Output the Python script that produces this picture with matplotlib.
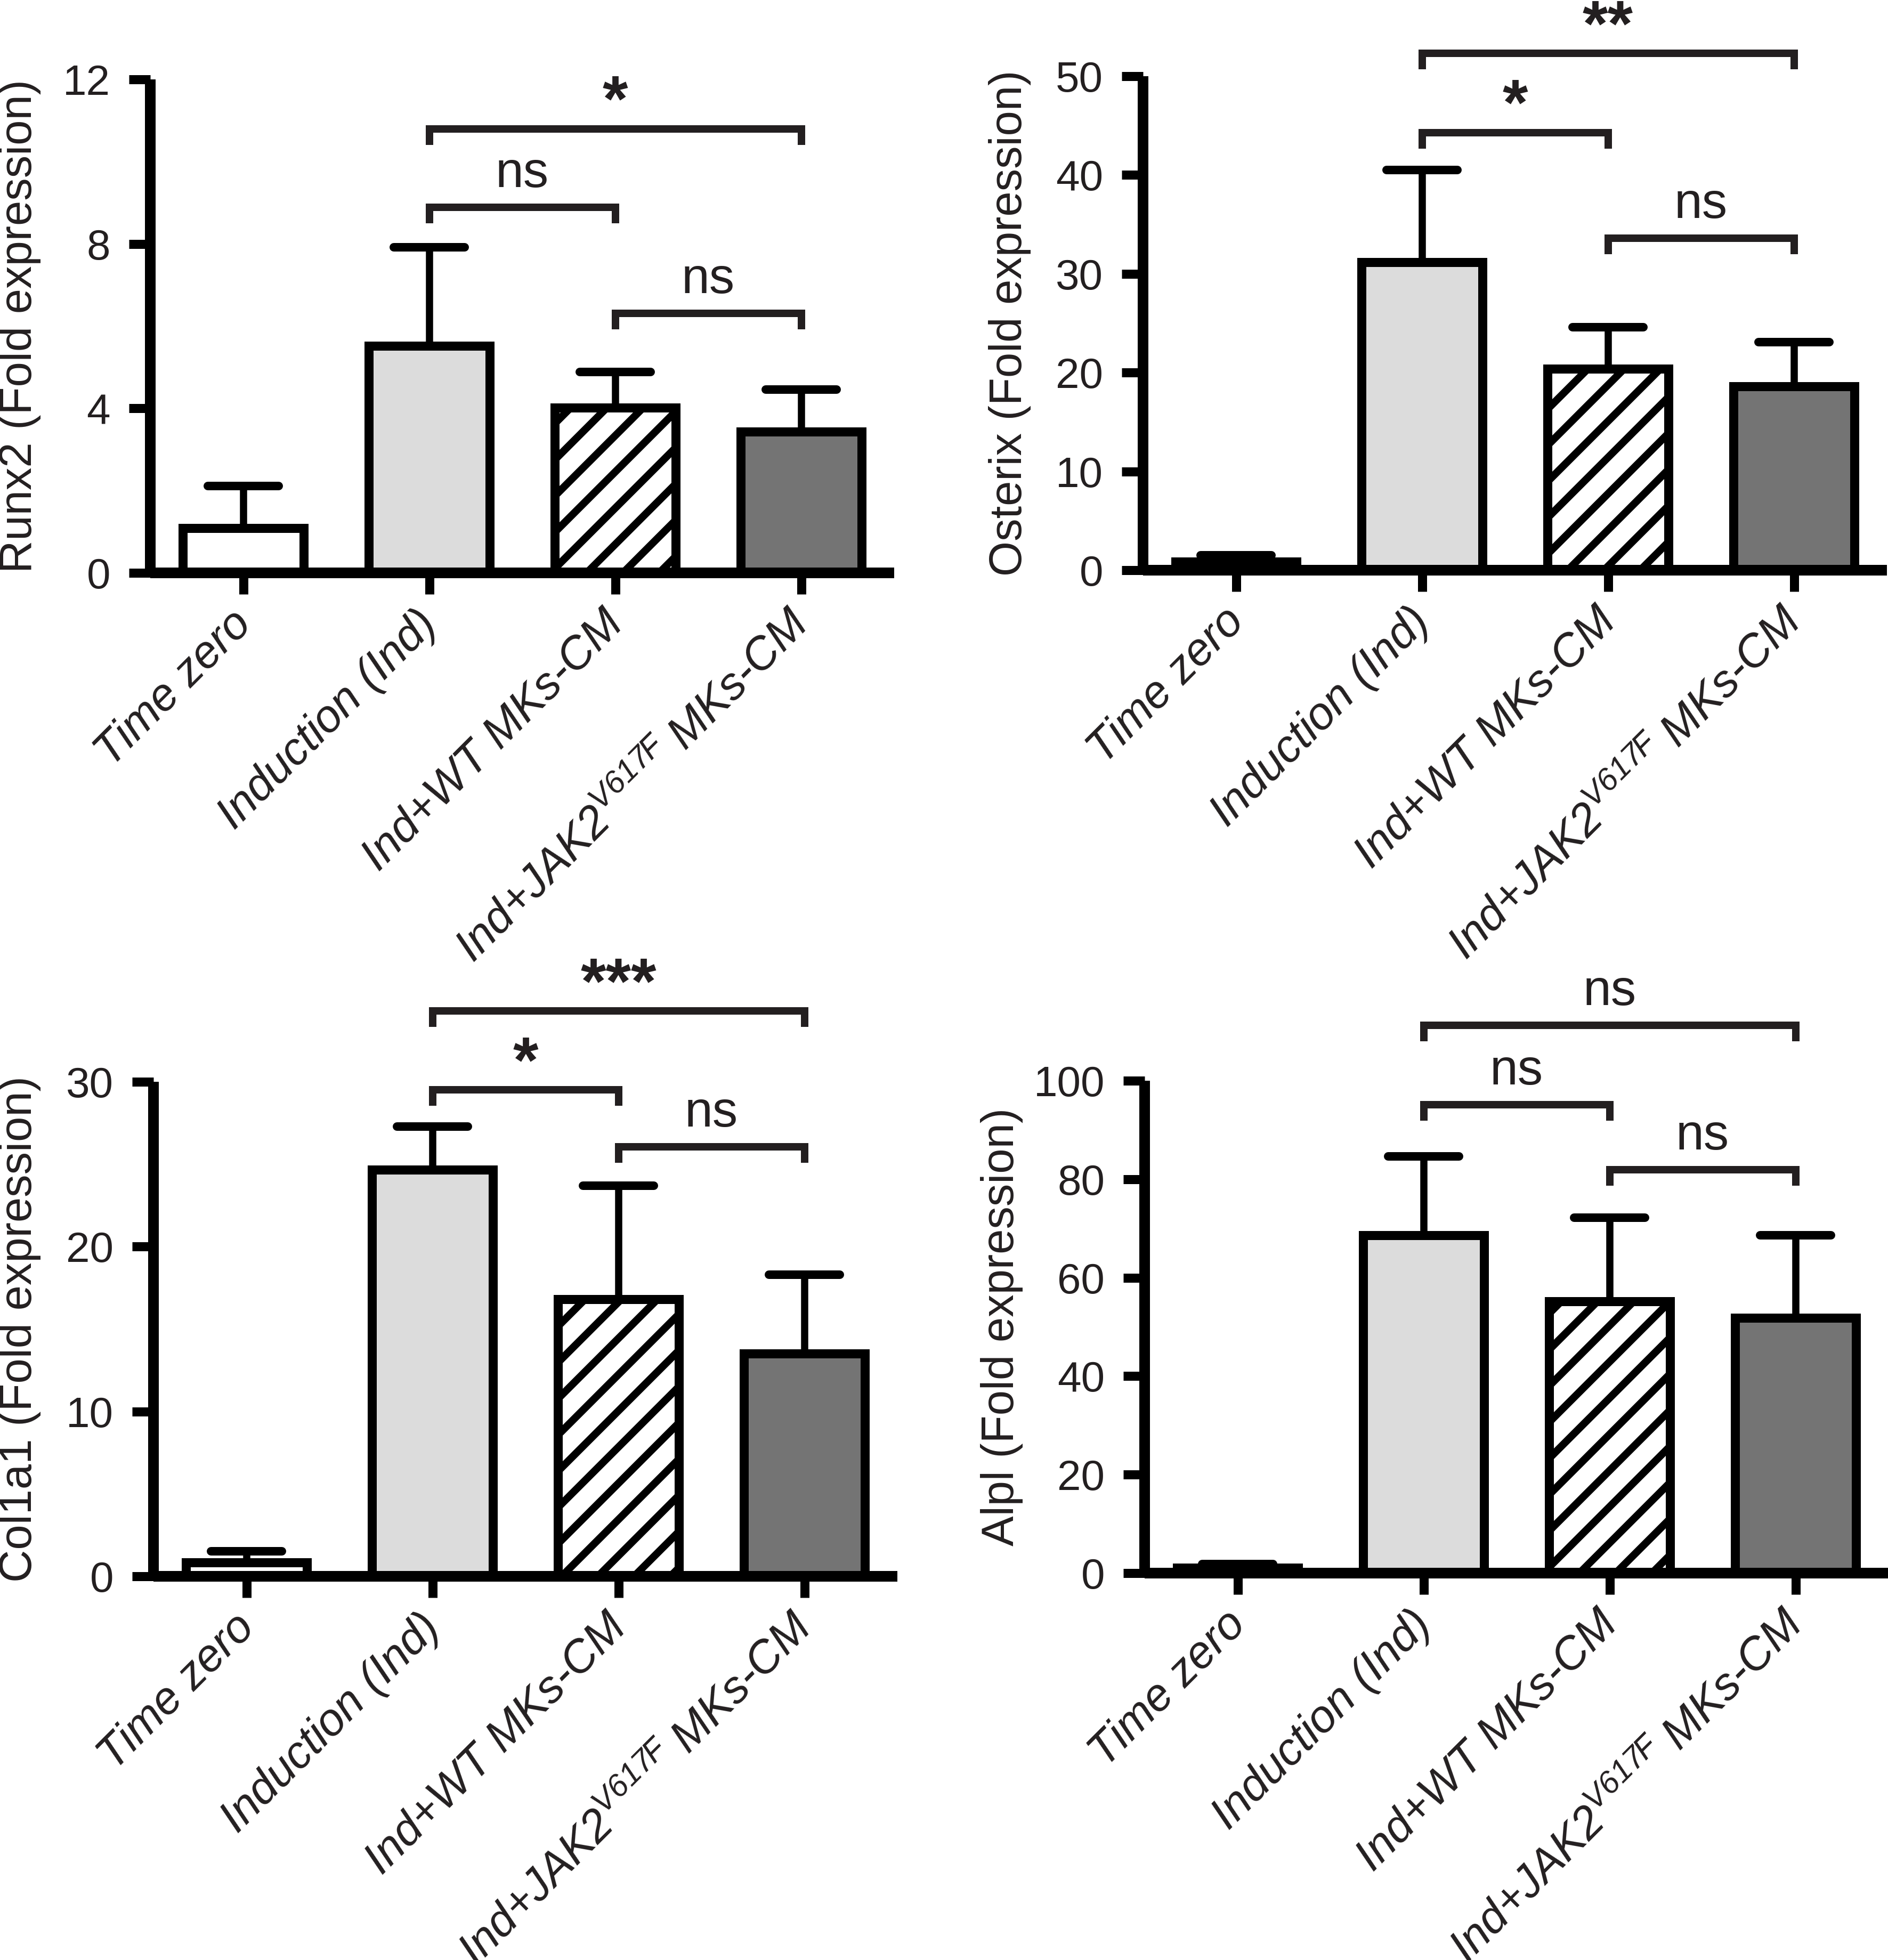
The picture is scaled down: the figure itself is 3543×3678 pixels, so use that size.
import numpy as np
import matplotlib
matplotlib.use("Agg")
from matplotlib import pyplot as plt

DPI = 408
PT = 72.0 / DPI  # pixels -> points

groups = ["Time zero", "Induction (Ind)", "Ind+WT MKs-CM",
          r"Ind+JAK2$^{\mathrm{V617F}}\;$MKs-CM"]

runx2_mean = [1.09, 5.52, 4.02, 3.44]
runx2_sd = [1.02, 2.40, 0.86, 1.02]
osterix_mean = [0.85, 31.2, 20.4, 18.6]
osterix_sd = [0.65, 9.3, 4.2, 4.5]
col1a1_mean = [0.85, 24.66, 16.8, 13.5]
col1a1_sd = [0.67, 2.64, 6.9, 4.8]
alpl_mean = [1.1, 68.6, 55.2, 51.8]
alpl_sd = [0.7, 16.0, 17.0, 16.8]

# (group a, group b, bracket height, label)
runx2_sig = [(1, 2, 8.89, "ns"), (2, 3, 6.31, "ns"), (1, 3, 10.8, "*")]
osterix_sig = [(1, 2, 44.3, "*"), (2, 3, 33.6, "ns"), (1, 3, 52.3, "**")]
col1a1_sig = [(1, 2, 29.5, "*"), (2, 3, 26.06, "ns"), (1, 3, 34.3, "***")]
alpl_sig = [(1, 2, 95.1, "ns"), (2, 3, 81.9, "ns"), (1, 3, 111.3, "ns")]

bar_colors = ["white", "#dcdcdc", "white", "#747474"]
bar_hatch = [None, None, "//", None]
txt = "#231f20"

plt.rcParams["font.family"] = ["Liberation Sans", "DejaVu Sans"]
plt.rcParams["mathtext.fontset"] = "custom"
plt.rcParams["mathtext.rm"] = "Liberation Sans:italic"
plt.rcParams["mathtext.it"] = "Liberation Sans:italic"
plt.rcParams["hatch.linewidth"] = 14 * PT

fig = plt.figure(figsize=(3543 / DPI, 3678 / DPI), dpi=DPI)

W, H = 3543.0, 3678.0
panels = [
    # left px, zero line px, top px, label right edge px, ...
    (282, 1075, 149, 77, runx2_mean, runx2_sd, runx2_sig, 12, [0, 4, 8, 12], "Runx2 (Fold expression)"),
    (2145, 1070, 143, 1935, osterix_mean, osterix_sd, osterix_sig, 50, [0, 10, 20, 30, 40, 50], "Osterix (Fold expression)"),
    (288, 2958, 2030, 77, col1a1_mean, col1a1_sd, col1a1_sig, 30, [0, 10, 20, 30], "Col1a1 (Fold expression)"),
    (2148, 2952, 2028, 1920, alpl_mean, alpl_sd, alpl_sig, 100, [0, 20, 40, 60, 80, 100], "Alpl (Fold expression)"),
]

x = np.arange(4)
for left, zero, top, lab_x, mean, sd, sig, ymax, yticks, ylabel in panels:
    ax = fig.add_axes([left / W, 1 - zero / H, 1396 / W, (zero - top) / H])
    mean = np.array(mean)
    sd = np.array(sd)

    # error bars (upper only), drawn under the bars
    ax.vlines(x, mean, mean + sd, color="black", lw=13.5 * PT, zorder=1)
    caps = ax.hlines(mean + sd, x - 0.19, x + 0.19, color="black", lw=16 * PT, zorder=1)
    caps.set_capstyle("round")

    for i in range(4):
        ax.bar(x[i], mean[i], width=0.65, color=bar_colors[i], edgecolor="black",
               linewidth=17 * PT, hatch=bar_hatch[i], zorder=2)

    ax.set_xlim(-0.5, 3.5)
    ax.set_ylim(0, ymax)
    ax.set_yticks(yticks)
    ax.set_yticklabels([str(t) for t in yticks], fontsize=80 * PT, color=txt)
    ax.set_xticks(x)
    ax.set_xticklabels([])
    for i in range(4):
        ax.annotate(groups[i], xy=(x[i], 0), xycoords=("data", "axes fraction"),
                    xytext=(-26 * PT, -56 * PT), textcoords="offset points",
                    rotation=45, ha="right", va="top", rotation_mode="anchor",
                    fontstyle="italic", fontsize=85 * PT, color=txt, annotation_clip=False)
    ax.set_ylabel(ylabel, fontsize=85 * PT, color=txt)
    ax.yaxis.set_label_coords((lab_x - left) / 1396.0, 0.5)

    for s in ["top", "right"]:
        ax.spines[s].set_visible(False)
    for s in ["left", "bottom"]:
        ax.spines[s].set_linewidth(20 * PT)
        ax.spines[s].set_capstyle("butt")
    ax.tick_params(axis="both", length=40 * PT, width=17 * PT, direction="out")
    ax.tick_params(axis="y", pad=35 * PT)

    leg = ymax * 30.0 / (zero - top)
    for a, b, yb, lab in sig:
        ax.plot([x[a], x[a], x[b], x[b]], [yb - leg, yb, yb, yb - leg], color=txt,
                lw=14 * PT, solid_joinstyle="miter", solid_capstyle="butt", clip_on=False)
        if lab == "ns":
            ax.annotate(lab, xy=((x[a] + x[b]) / 2, yb), xytext=(0, 38 * PT),
                        textcoords="offset points", ha="center", va="baseline",
                        fontsize=95 * PT, color=txt, annotation_clip=False)
        else:
            ax.annotate(lab, xy=((x[a] + x[b]) / 2, yb), xytext=(0, 15 * PT),
                        textcoords="offset points", ha="center", va="baseline",
                        fontsize=122 * PT, fontweight="bold", color=txt,
                        annotation_clip=False)

fig.savefig("out.png", dpi=DPI, facecolor="white")
